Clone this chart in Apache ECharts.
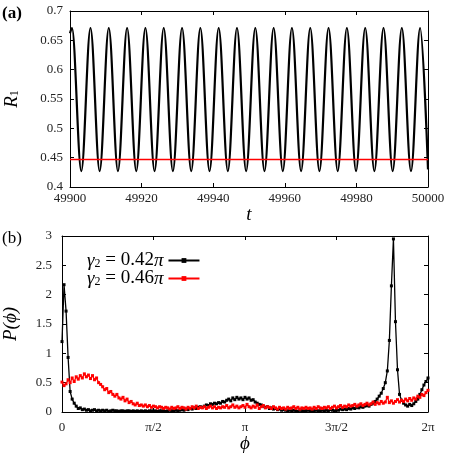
<!DOCTYPE html>
<html>
<head>
<meta charset="utf-8">
<script src="https://cdn.jsdelivr.net/npm/echarts@6/dist/echarts.min.js"></script>
<style>
  html, body { margin: 0; padding: 0; background: #fff; }
  #chart { width: 457px; height: 465px; }
</style>
</head>
<body>
<div id="chart"></div>
<script>
const r1Times = [
  49900, 49900.55, 49903.16, 49905.72, 49908.28, 49910.83, 49913.39, 49915.95, 49918.51,
  49921.06, 49923.62, 49926.18, 49928.74, 49931.30, 49933.86, 49936.41, 49938.97,
  49941.53, 49944.09, 49946.64, 49949.20, 49951.76, 49954.32, 49956.88, 49959.44,
  49961.99, 49964.55, 49967.11, 49969.67, 49972.22, 49974.78, 49977.34, 49979.90,
  49982.46, 49985.02, 49987.57, 49990.13, 49992.69, 49995.25, 49997.80, 50000
];
const r1Values = [
  0.662, 0.671, 0.427, 0.671, 0.427, 0.671, 0.427, 0.671, 0.427,
  0.671, 0.427, 0.671, 0.427, 0.671, 0.427, 0.671, 0.427,
  0.671, 0.427, 0.671, 0.427, 0.671, 0.427, 0.671, 0.427,
  0.671, 0.427, 0.671, 0.427, 0.671, 0.427, 0.671, 0.427,
  0.671, 0.427, 0.671, 0.427, 0.671, 0.427, 0.671, 0.430
];
const r1RedLevel = 0.447;
const tRange = [49900, 50000];

// (b) P(phi): 2-degree bins, 0..360 deg
const phiBinDeg = 2;
const pBlack = [
  1.20, 2.17, 1.72, 0.93, 0.35, 0.22, 0.15, 0.10, 0.06, 0.07,
  0.04, 0.05, 0.03, 0.04, 0.02, 0.03, 0.04, 0.02, 0.03, 0.02,
  0.03, 0.02, 0.03, 0.01, 0.02, 0.03, 0.02, 0.02, 0.01, 0.02,
  0.02, 0.01, 0.02, 0.02, 0.01, 0.02, 0.01, 0.02, 0.01, 0.02,
  0.01, 0.02, 0.01, 0.02, 0.02, 0.01, 0.02, 0.01, 0.02, 0.02,
  0.02, 0.01, 0.02, 0.03, 0.02, 0.02, 0.03, 0.02, 0.03, 0.04,
  0.03, 0.05, 0.04, 0.06, 0.05, 0.07, 0.06, 0.08, 0.09, 0.08,
  0.10, 0.12, 0.11, 0.14, 0.13, 0.15, 0.14, 0.16, 0.15, 0.18,
  0.17, 0.20, 0.22, 0.19, 0.24, 0.21, 0.25, 0.22, 0.24, 0.21,
  0.25, 0.22, 0.24, 0.20, 0.21, 0.17, 0.15, 0.13, 0.12, 0.10,
  0.08, 0.09, 0.06, 0.07, 0.05, 0.06, 0.04, 0.05, 0.03, 0.04,
  0.03, 0.02, 0.03, 0.02, 0.03, 0.02, 0.01, 0.03, 0.02, 0.02,
  0.02, 0.03, 0.02, 0.01, 0.02, 0.03, 0.02, 0.02, 0.03, 0.02,
  0.03, 0.02, 0.04, 0.03, 0.02, 0.04, 0.03, 0.05, 0.04, 0.05,
  0.04, 0.06, 0.05, 0.07, 0.06, 0.08, 0.07, 0.09, 0.08, 0.10,
  0.11, 0.10, 0.13, 0.15, 0.18, 0.22, 0.27, 0.32, 0.40, 0.50,
  0.70, 1.22, 2.15, 2.95, 1.54, 0.72, 0.30, 0.20, 0.15, 0.12,
  0.10, 0.13, 0.11, 0.14, 0.18, 0.22, 0.30, 0.38, 0.46, 0.52,
  0.58
];
const pRed = [
  0.51, 0.45, 0.48, 0.55, 0.50, 0.58, 0.52, 0.60, 0.56, 0.62,
  0.58, 0.65, 0.60, 0.63, 0.57, 0.62, 0.55, 0.58, 0.50, 0.47,
  0.43, 0.38, 0.40, 0.33, 0.35, 0.30, 0.27, 0.30, 0.24, 0.22,
  0.25, 0.19, 0.22, 0.16, 0.18, 0.14, 0.12, 0.15, 0.11, 0.12,
  0.10, 0.12, 0.09, 0.11, 0.08, 0.10, 0.09, 0.07, 0.09, 0.08,
  0.06, 0.08, 0.07, 0.05, 0.08, 0.06, 0.07, 0.09, 0.06, 0.08,
  0.07, 0.05, 0.08, 0.06, 0.09, 0.07, 0.10, 0.06, 0.08, 0.07,
  0.09, 0.06, 0.08, 0.10, 0.07, 0.09, 0.06, 0.08, 0.07, 0.09,
  0.08, 0.11, 0.07, 0.09, 0.12, 0.08, 0.10, 0.07, 0.09, 0.11,
  0.08, 0.13, 0.09, 0.07, 0.10, 0.08, 0.12, 0.06, 0.09, 0.11,
  0.07, 0.09, 0.08, 0.06, 0.09, 0.07, 0.05, 0.08, 0.06, 0.07,
  0.05, 0.08, 0.06, 0.07, 0.09, 0.06, 0.08, 0.05, 0.07, 0.06,
  0.08, 0.06, 0.07, 0.05, 0.08, 0.06, 0.09, 0.07, 0.06, 0.08,
  0.07, 0.09, 0.06, 0.08, 0.10, 0.07, 0.09, 0.11, 0.08, 0.10,
  0.09, 0.12, 0.10, 0.11, 0.13, 0.10, 0.12, 0.14, 0.11, 0.13,
  0.15, 0.12, 0.14, 0.17, 0.13, 0.16, 0.14, 0.18, 0.15, 0.17,
  0.25, 0.16, 0.19, 0.15, 0.18, 0.21, 0.17, 0.20, 0.18, 0.22,
  0.19, 0.23, 0.20, 0.24, 0.22, 0.27, 0.25, 0.30, 0.28, 0.33,
  0.37
];
const phiTickLabels = ["0", "π/2", "π", "3π/2", "2π"];
const legendNames = ["g042", "g046"];
const legendValues = ["0.42", "0.46"];

const serif = "Liberation Serif";
const tickFont = { fontFamily: serif, fontSize: 13, color: "#222" };

function boxAxes(gridIndex, labelled, extra) {
  // 主轴带刻度标签，镜像轴只画向内的刻度
  return Object.assign({
    gridIndex: gridIndex,
    axisLine: { show: true, onZero: false, lineStyle: { color: "#000", width: 1 } },
    axisTick: { show: true, inside: true, length: 4, lineStyle: { color: "#000" } },
    axisLabel: Object.assign({ show: labelled }, tickFont),
    splitLine: { show: false },
  }, extra);
}

const chart = echarts.init(document.getElementById("chart"));

const xTop = { type: "value", min: tRange[0], max: tRange[1], interval: 20 };
const yTop = { type: "value", min: 0.4, max: 0.7, interval: 0.05 };
const xBot = { type: "value", min: 0, max: 360, interval: 90 };
const yBot = { type: "value", min: 0, max: 3, interval: 0.5 };

const option = {
  animation: false,
  backgroundColor: "#fff",
  graphic: [
    { type: "text", left: 2, top: 5, style: { text: "(a)", fontFamily: serif, fontWeight: "bold", fontSize: 17, fill: "#000" } },
    { type: "text", left: 2, top: 230, style: { text: "(b)", fontFamily: serif, fontSize: 17, fill: "#000" } },
  ],
  grid: [
    { left: 70, top: 11, width: 358, height: 176, outerBoundsMode: "none", containLabel: false },
    { left: 62, top: 236, width: 366, height: 176, outerBoundsMode: "none", containLabel: false },
  ],
  xAxis: [
    boxAxes(0, true, Object.assign({}, xTop, {
      position: "bottom",
      axisLabel: Object.assign({ show: true, margin: 5, formatter: (v) => String(v) }, tickFont),
      name: "t", nameLocation: "middle", nameGap: 17,
      nameTextStyle: { fontFamily: serif, fontStyle: "italic", fontSize: 19, color: "#000" },
    })),
    boxAxes(0, false, Object.assign({}, xTop, { position: "top" })),
    boxAxes(1, true, Object.assign({}, xBot, {
      position: "bottom",
      axisLabel: Object.assign({
        show: true, margin: 9,
        formatter: (v) => phiTickLabels[Math.round(v / 90)],
      }, tickFont),
      name: "ϕ", nameLocation: "middle", nameGap: 22,
      nameTextStyle: { fontFamily: serif, fontStyle: "italic", fontSize: 19, color: "#000" },
    })),
    boxAxes(1, false, Object.assign({}, xBot, { position: "top" })),
  ],
  yAxis: [
    boxAxes(0, true, Object.assign({}, yTop, {
      position: "left",
      axisLabel: Object.assign({ show: true, margin: 7 }, tickFont),
      name: "{r|R}{s|1}", nameLocation: "middle", nameGap: 49,
      nameTextStyle: {
        color: "#000",
        rich: {
          r: { fontFamily: serif, fontStyle: "italic", fontSize: 19 },
          s: { fontFamily: serif, fontSize: 12, padding: [7, 0, 0, 0] },
        },
      },
    })),
    boxAxes(0, false, Object.assign({}, yTop, { position: "right" })),
    boxAxes(1, true, Object.assign({}, yBot, {
      position: "left",
      axisLabel: Object.assign({ show: true, margin: 10 }, tickFont),
      name: "{p|P(ϕ)}", nameLocation: "middle", nameGap: 42,
      nameTextStyle: {
        color: "#000",
        rich: { p: { fontFamily: serif, fontStyle: "italic", fontSize: 19 } },
      },
    })),
    boxAxes(1, false, Object.assign({}, yBot, { position: "right" })),
  ],
  legend: {
    data: legendNames,
    orient: "vertical",
    left: 82, top: 246,
    align: "right",
    itemWidth: 31, itemHeight: 6, itemGap: -1,
    formatter: (name) => "{g|γ}{s|2}{t| = " + legendValues[legendNames.indexOf(name)] + "}{g|π}",
    textStyle: {
      color: "#000",
      rich: {
        g: { fontFamily: serif, fontStyle: "italic", fontSize: 19, lineHeight: 16 },
        s: { fontFamily: serif, fontSize: 12, padding: [7, 0, 0, 0], lineHeight: 16 },
        t: { fontFamily: serif, fontSize: 19, lineHeight: 16 },
      },
    },
  },
  series: [
    {
      name: "r1_042", type: "line", xAxisIndex: 0, yAxisIndex: 0,
      data: r1Times.map((t, i) => [t, r1Values[i]]),
      showSymbol: false, smooth: 0.35, smoothMonotone: "x",
      lineStyle: { color: "#000", width: 2.2 },
    },
    {
      name: "r1_046", type: "line", xAxisIndex: 0, yAxisIndex: 0,
      data: [[tRange[0], r1RedLevel], [tRange[1], r1RedLevel]],
      showSymbol: false,
      lineStyle: { color: "#f00", width: 1.6 },
    },
    {
      name: legendNames[0], type: "line", xAxisIndex: 2, yAxisIndex: 2,
      data: pBlack.map((p, i) => [i * phiBinDeg, p]),
      symbol: "rect", symbolSize: 3,
      lineStyle: { color: "#000", width: 1.3 },
      itemStyle: { color: "#000" },
    },
    {
      name: legendNames[1], type: "line", xAxisIndex: 2, yAxisIndex: 2,
      data: pRed.map((p, i) => [i * phiBinDeg, p]),
      symbol: "rect", symbolSize: 3,
      lineStyle: { color: "#f00", width: 1.3 },
      itemStyle: { color: "#f00" },
    },
  ],
};

chart.setOption(option);
window.addEventListener("resize", () => chart.resize());
</script>
</body>
</html>
